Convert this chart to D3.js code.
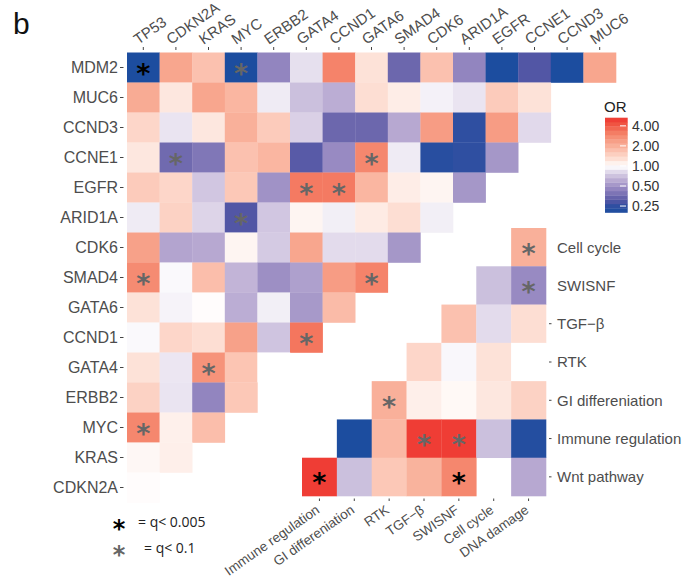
<!DOCTYPE html>
<html>
<head>
<meta charset="utf-8">
<script src="https://cdn.jsdelivr.net/npm/d3@7"></script>
<style>
body{margin:0;background:#fff}
text{font-family:"Liberation Sans",Arial,sans-serif}
</style>
</head>
<body>
<script>
// gene x gene odds ratios (columns follow colGenes), null = no value
var rowGenes = ["MDM2","MUC6","CCND3","CCNE1","EGFR","ARID1A","CDK6","SMAD4","GATA6","CCND1","GATA4","ERBB2","MYC","KRAS","CDKN2A"];
var colGenes = ["TP53","CDKN2A","KRAS","MYC","ERBB2","GATA4","CCND1","GATA6","SMAD4","CDK6","ARID1A","EGFR","CCNE1","CCND3","MUC6"];
var geneOR = [
  [0.2, 2.2, 1.7, 0.2, 0.45, 0.85, 3.0, 1.25, 0.35, 1.7, 0.45, 0.2, 0.3, 0.2, 2.2],
  [2.1, 1.2, 2.2, 1.9, 0.9, 0.7, 0.62, 1.3, 1.15, 0.93, 0.87, 1.55, 1.25, null],
  [1.4, 0.87, 1.2, 2.0, 1.55, 0.78, 0.35, 0.35, 0.6, 2.4, 0.25, 2.4, 0.82],
  [1.2, 0.36, 0.4, 1.7, 1.9, 0.31, 0.47, 2.9, 0.9, 0.23, 0.25, 0.52],
  [1.55, 1.4, 0.73, 1.6, 0.5, 3.2, 3.2, 1.9, 1.15, 1.08, 0.52],
  [0.9, 1.45, 0.8, 0.3, 0.73, 1.08, 0.92, 1.17, 1.3, 0.92],
  [2.3, 0.58, 0.6, 1.08, 0.75, 2.2, 0.83, 0.83, 0.52],
  [2.8, 0.97, 1.75, 0.65, 0.49, 0.56, 2.4, 3.0],
  [1.25, 0.94, 1.02, 0.62, 0.92, 0.53, 1.8],
  [0.97, 1.4, 1.3, 2.3, 0.72, 3.3],
  [1.25, 0.88, 2.6, 1.65, 1.0],
  [1.45, 0.87, 0.45, 1.6],
  [2.9, 1.12, 1.75],
  [1.06, 1.13],
  [1.02]
];
// [row, column, significance]  b = q<0.005, g = q<0.1
var geneStars = [
  ["MDM2","TP53","b"],["MDM2","MYC","g"],["CCNE1","CDKN2A","g"],["CCNE1","GATA6","g"],
  ["EGFR","GATA4","g"],["EGFR","CCND1","g"],["ARID1A","MYC","g"],["SMAD4","TP53","g"],
  ["SMAD4","GATA6","g"],["CCND1","GATA4","g"],["GATA4","KRAS","g"],["MYC","TP53","g"]
];

// pathway x pathway
var pathRows = ["Cell cycle","SWISNF","TGF\u2212\u03b2","RTK","GI differeniation","Immune regulation","Wnt pathway"];
var pathCols = ["Immune regulation","GI differeniation","RTK","TGF\u2212\u03b2","SWISNF","Cell cycle","DNA damage"];
var pathOR = [
  [null, null, null, null, null, null, 2.0],
  [null, null, null, null, null, 0.7, 0.47],
  [null, null, null, null, 1.7, 0.83, 1.3],
  [null, null, null, 1.4, 0.96, 1.25, 1.0],
  [null, null, 2.0, 1.13, 1.05, 1.2, 1.45],
  [null, 0.2, 1.85, 5, 5, 0.7, 0.22],
  [5, 0.7, 1.6, 1.95, 2.9, null, 0.6]
];
var pathStars = [
  ["Cell cycle","DNA damage","g"],["SWISNF","DNA damage","g"],["GI differeniation","RTK","g"],
  ["Immune regulation","TGF\u2212\u03b2","g"],["Immune regulation","SWISNF","g"],
  ["Wnt pathway","Immune regulation","b"],["Wnt pathway","SWISNF","b"]
];

var legendTicks = [4, 2, 1, 0.5, 0.25];
var orStops  = [0.2, 0.25, 0.3, 0.35, 0.45, 0.6, 0.8, 1, 1.25, 1.6, 2, 2.5, 3, 4, 5.3];
var orColors = ["#1c4d9f","#2f4fa1","#5256a5","#6c67ad","#9285bf","#b7a8d1","#ddd4e8","#ffffff",
                "#fde2d8","#fcc8b7","#f9b09a","#f6987f","#f5836a","#f15c47","#ee3530"];

var color = d3.scaleLog().domain(orStops).range(orColors).clamp(true);

var svg = d3.select("body").append("svg").attr("width", 683).attr("height", 578);

svg.append("text").attr("x", 13).attr("y", 34).attr("font-size", 30).attr("fill", "#111").text("b");

function star(sel, fx, fy, size) {
  sel.attr("x", fx).attr("y", fy)
    .attr("text-anchor", "middle").attr("font-size", size || 27).attr("font-weight", "bold")
    .style("font-family", "DejaVu Sans")
    .attr("fill", d => d[2] == "b" ? "#000" : "#666")
    .text("*");
}

// ---- gene heatmap
var gx = d3.scaleBand().domain(colGenes).range([127, 616]);
var gy = d3.scaleBand().domain(rowGenes).range([52.5, 502.5]);

var geneCells = [];
geneOR.forEach(function(r, i) {
  r.forEach(function(v, k) { if (v != null) geneCells.push({row: rowGenes[i], col: colGenes[k], v: v}); });
});

svg.append("g").selectAll("rect").data(geneCells).enter().append("rect")
  .attr("x", d => gx(d.col)).attr("y", d => gy(d.row))
  .attr("width", gx.bandwidth() + 0.3).attr("height", gy.bandwidth() + 0.3)
  .attr("fill", d => color(d.v));

svg.append("g").selectAll("text").data(geneStars).enter().append("text")
  .call(star, d => gx(d[1]) + gx.bandwidth() / 2, d => gy(d[0]) + gy.bandwidth() / 2 + 15.5);

var axG = svg.append("g");
colGenes.forEach(function(c) {
  var cx = gx(c) + gx.bandwidth() / 2;
  axG.append("line").attr("x1", cx).attr("x2", cx).attr("y1", 47).attr("y2", 50).attr("stroke", "#444");
  axG.append("text").attr("transform", "translate(" + (cx - 5) + ",45) rotate(-35)")
    .attr("font-size", 15).attr("fill", "#4d4d4d").text(c);
});
rowGenes.forEach(function(r) {
  var cy = gy(r) + gy.bandwidth() / 2;
  axG.append("line").attr("x1", 120).attr("x2", 123.5).attr("y1", cy).attr("y2", cy).attr("stroke", "#444");
  axG.append("text").attr("x", 118).attr("y", cy).attr("dy", "0.36em").attr("text-anchor", "end")
    .attr("font-size", 16).attr("fill", "#4d4d4d").text(r);
});

// ---- pathway heatmap
var px = d3.scaleBand().domain(pathCols).range([302, 546]);
var py = d3.scaleBand().domain(pathRows).range([228, 496]);

var pathCells = [];
pathOR.forEach(function(r, i) {
  r.forEach(function(v, k) { if (v != null) pathCells.push({row: pathRows[i], col: pathCols[k], v: v}); });
});

svg.append("g").selectAll("rect").data(pathCells).enter().append("rect")
  .attr("x", d => px(d.col)).attr("y", d => py(d.row))
  .attr("width", px.bandwidth() + 0.3).attr("height", py.bandwidth() + 0.3)
  .attr("fill", d => color(d.v));

svg.append("g").selectAll("text").data(pathStars).enter().append("text")
  .call(star, d => px(d[1]) + px.bandwidth() / 2, d => py(d[0]) + py.bandwidth() / 2 + 15.5);

var pax = svg.append("g");
pathCols.forEach(function(c) {
  var cx = px(c) + px.bandwidth() / 2;
  pax.append("line").attr("x1", cx).attr("x2", cx).attr("y1", 498.5).attr("y2", 501).attr("stroke", "#444");
  pax.append("text").attr("transform", "translate(" + (cx + 1) + ",512) rotate(-35)")
    .attr("text-anchor", "end").attr("font-size", 13.5).attr("fill", "#4d4d4d").text(c);
});
pathRows.forEach(function(r, i) {
  var cy = py(r) + py.bandwidth() / 2;
  if (i > 1) pax.append("line").attr("x1", 549).attr("x2", 551.5).attr("y1", cy).attr("y2", cy).attr("stroke", "#444");
  pax.append("text").attr("x", 557).attr("y", cy).attr("dy", "0.36em")
    .attr("font-size", 15).attr("fill", "#4d4d4d").text(r);
});

// ---- colour legend
var ly = d3.scaleLog().domain([0.2, 5.3]).range([212.5, 117.7]);
var nb = 22, step = (Math.log(5.3) - Math.log(0.2)) / nb;
var bands = d3.range(nb).map(function(i) {
  return {lo: Math.exp(Math.log(0.2) + i * step), hi: Math.exp(Math.log(0.2) + (i + 1) * step)};
});
var leg = svg.append("g");
leg.append("text").attr("x", 604).attr("y", 112).attr("font-size", 15).attr("fill", "#222").text("OR");
leg.selectAll("rect").data(bands).enter().append("rect")
  .attr("x", 605).attr("width", 22.7)
  .attr("y", d => ly(d.hi)).attr("height", d => ly(d.lo) - ly(d.hi) + 0.3)
  .attr("fill", d => color(Math.sqrt(d.lo * d.hi)));
legendTicks.forEach(function(t) {
  leg.append("line").attr("x1", 620).attr("x2", 626).attr("y1", ly(t)).attr("y2", ly(t))
    .attr("stroke", "#fff").attr("stroke-width", 1);
  leg.append("text").attr("x", 632).attr("y", ly(t)).attr("dy", "0.36em")
    .attr("font-size", 14).attr("fill", "#333").text(t.toFixed(2));
});

// ---- significance key
var key = svg.append("g");
key.selectAll("text.k").data([["", "", "b"], ["", "", "g"]]).enter().append("text")
  .call(star, 119, (d, i) => (i ? 549 : 523) + 14, 24);
[["= q< 0.005", 523, 138], ["= q< 0.1", 549, 144]].forEach(function(k) {
  key.append("text").attr("x", k[2]).attr("y", k[1] + 4)
    .style("font-family", "'Liberation Sans Narrow','Open Sans',sans-serif")
    .attr("font-size", 14).attr("fill", "#222").text(k[0]);
});
</script>
</body>
</html>
